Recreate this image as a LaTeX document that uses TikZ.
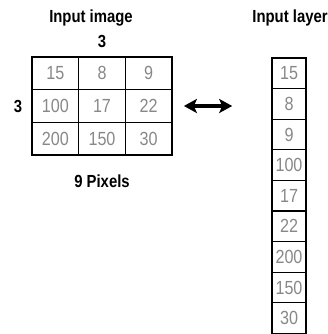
\documentclass[tikz,border=0pt]{standalone}
\usepackage{fontspec}
\setmainfont{Liberation Sans}[FakeStretch=0.85]
\usepackage{xcolor}
\usetikzlibrary{positioning, arrows.meta, fit}
\definecolor{pixGray}{HTML}{888888}

\begin{document}
\begin{tikzpicture}[
    x=1pt, y=-1pt,
    cell/.style={draw, line width=1.2pt, minimum width=46.7pt, minimum height=32.7pt,
                 inner sep=0pt, text=pixGray, font=\fontsize{19}{19}\selectfont},
    unit/.style={cell, minimum width=34pt, minimum height=30.6pt},
    lbl/.style={font=\fontsize{17.5}{18}\selectfont\bfseries, inner sep=0pt},
    dbl/.style={{Stealth[length=13pt,width=14pt,inset=3pt]}-{Stealth[length=13pt,width=14pt,inset=3pt]},
                line width=4.5pt},
  ]
    \useasboundingbox (0,0) rectangle (327,334);

    % pixel grid and flattened column
    \foreach \v [count=\i from 0] in {15,8,9,100,17,22,200,150,30} {
      \pgfmathtruncatemacro\row{div(\i,3)}
      \pgfmathtruncatemacro\col{mod(\i,3)}
      \node[cell] (p\i) at (55.3+46.7*\col, 73.3+32.7*\row) {\v};
      \node[unit] (u\i) at (289, 73.3+30.6*\i) {\v};
    }

    \node[fit=(p0)(p8), inner sep=0pt] (img) {};
    \node[fit=(u0)(u8), inner sep=0pt] (lay) {};

    \node[lbl] (title) at (91,18) {Input image};
    \node[lbl, above=8pt of p1] (ncols) {3};
    \node[lbl, left=9pt of p3] (nrows) {3};
    \node[lbl, below=19pt of p7] (npix) {9 Pixels};
    \node[lbl] (ltitle) at (290,18) {Input layer};

    \draw[dbl, shorten <=11pt, shorten >=39pt] (img.east) -- (img.east -| lay.west);
  \end{tikzpicture}
\end{document}
